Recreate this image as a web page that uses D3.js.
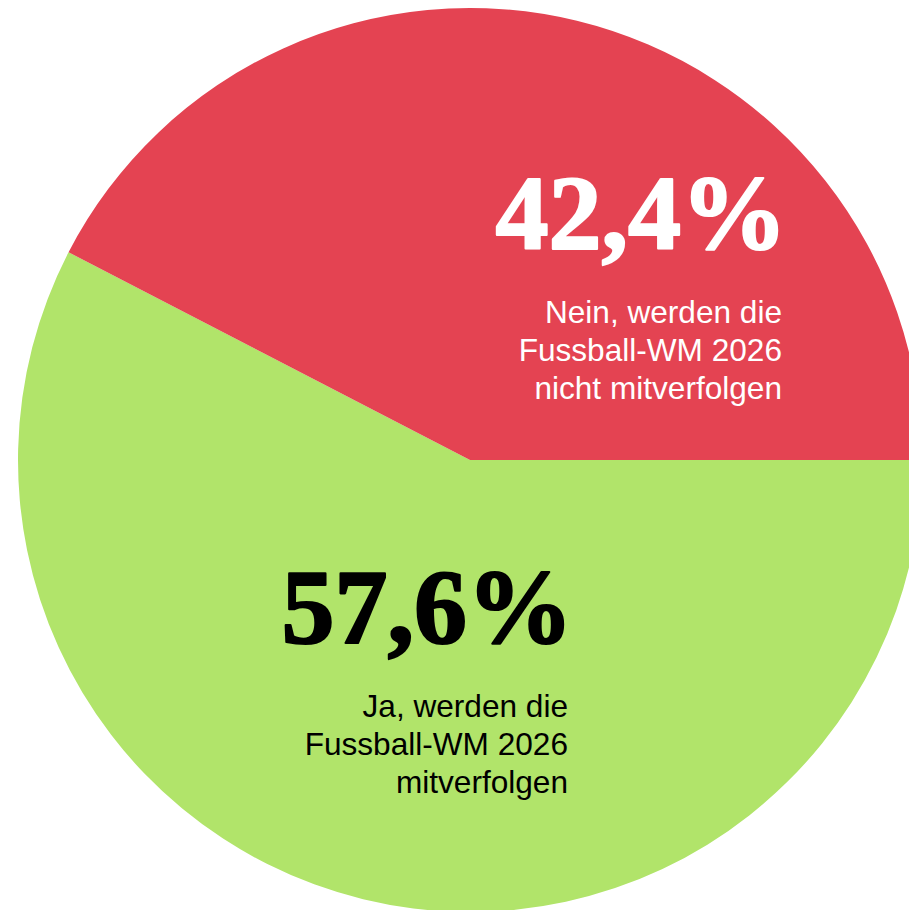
<!DOCTYPE html>
<html>
<head>
<meta charset="utf-8">
<script src="https://cdn.jsdelivr.net/npm/d3@7"></script>
<style>
  html, body { margin: 0; padding: 0; background: #fff; overflow: hidden; }
  svg { display: block; }
</style>
</head>
<body>
<div id="chart"></div>
<script>
// Umfrage: Fussball-WM 2026 mitverfolgen?
const answers = ['Ja', 'Nein'];
const shares = [57.6, 42.4];
const sliceColors = ['#b1e46a', '#e44352'];
const textColors = ['#000000', '#ffffff'];
const labelLines = [
    ['Ja, werden die', 'Fussball-WM 2026', 'mitverfolgen'],
    ['Nein, werden die', 'Fussball-WM 2026', 'nicht mitverfolgen']
];

const width = 909, height = 910;
const cx = 470, cy = 460, radius = 452;

// where each label block is anchored (right edge, baseline of the big number)
const labelPos = [
    { x: 568, y: 643 },
    { x: 782, y: 249 }
];

const svg = d3.select('#chart')
    .append('svg')
    .attr('width', width)
    .attr('height', height);

const g = svg.append('g')
    .attr('transform', `translate(${cx}, ${cy})`);

const pie = d3.pie()
    .sort(null)
    .value(d => d)
    .startAngle(Math.PI / 2)
    .endAngle(Math.PI / 2 + 2 * Math.PI);

const arc = d3.arc().innerRadius(0).outerRadius(radius);

g.selectAll('path')
    .data(pie(shares))
    .join('path')
    .attr('d', arc)
    .attr('fill', (d, i) => sliceColors[i]);

const fmt = v => v.toFixed(1).replace('.', ',') + '%';

const labels = svg.append('g')
    .selectAll('g')
    .data(answers)
    .join('g')
    .attr('transform', (d, i) => `translate(${labelPos[i].x}, ${labelPos[i].y})`);

// big number, a bit of stroke to get closer to the heavy serif of the original
labels.append('text')
    .text((d, i) => fmt(shares[i]))
    .attr('text-anchor', 'end')
    .attr('dx', 5)
    .attr('fill', (d, i) => textColors[i])
    .attr('stroke', (d, i) => textColors[i])
    .attr('stroke-width', 2.2)
    .attr('stroke-linejoin', 'round')
    .attr('font-family', '"Liberation Serif", "DejaVu Serif", serif')
    .attr('font-weight', 'bold')
    .attr('font-size', '106px');

labels.each(function (d, i) {
    d3.select(this).selectAll('text.line')
        .data(labelLines[i])
        .join('text')
        .attr('class', 'line')
        .text(t => t)
        .attr('text-anchor', 'end')
        .attr('y', (t, j) => 74 + j * 38)
        .attr('fill', textColors[i])
        .attr('font-family', '"Liberation Sans", Arial, sans-serif')
        .attr('font-size', '31.6px');
});
</script>
</body>
</html>
